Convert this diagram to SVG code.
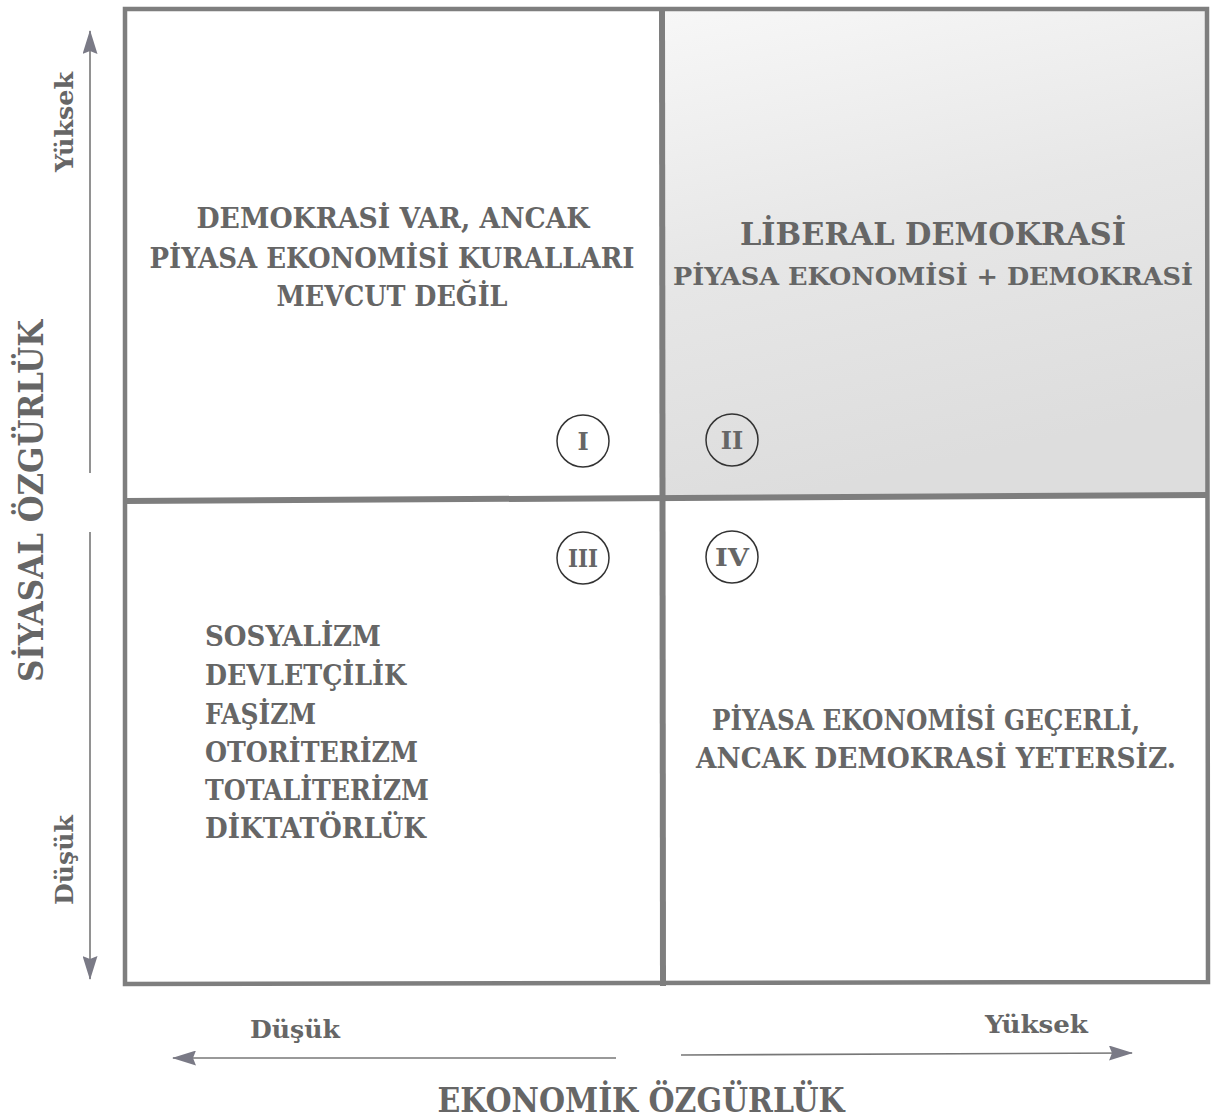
<svg xmlns="http://www.w3.org/2000/svg" width="1213" height="1119" viewBox="0 0 1213 1119">
<defs>
<linearGradient id="g2" x1="0" y1="0" x2="0.25" y2="1">
<stop offset="0" stop-color="#f7f7f7"/>
<stop offset="0.5" stop-color="#e7e7e7"/>
<stop offset="1" stop-color="#dddddd"/>
</linearGradient>
<marker id="ah" markerWidth="24" markerHeight="15" refX="23" refY="7.5" orient="auto" markerUnits="userSpaceOnUse">
<path d="M0,0 L24,7.5 L0,15 L3,7.5 Z" fill="#7a7a86"/>
</marker>
<style>
.t{font-family:"DejaVu Serif","Liberation Serif",serif;font-weight:bold;fill:#666;}
.q{font-size:27px;}
.c{text-anchor:middle;}
.ax{stroke:#777;stroke-width:1.6;fill:none;}
.br{stroke:#7e7e7e;fill:none;}
.cir{fill:none;stroke:#333;stroke-width:1.5;}
.n{font-size:24px;text-anchor:middle;}
</style>
</defs>
<rect width="1213" height="1119" fill="#fff"/>
<g id="quadrant-II-fill">
<rect x="665" y="11" width="541" height="484" fill="url(#g2)"/>
</g>
<g id="frame">
<path class="br" stroke-width="4.5" d="M125,9 L1207,9 L1208,982 L125,984 Z"/>
<line class="br" stroke-width="6" x1="662" y1="9" x2="663" y2="986"/>
<line class="br" stroke-width="6" x1="125" y1="501" x2="1207" y2="495"/>
</g>
<g id="connectors">
<line class="ax" x1="90" y1="473" x2="90" y2="31" marker-end="url(#ah)"/>
<line class="ax" x1="90" y1="532" x2="90" y2="979" marker-end="url(#ah)"/>
<line class="ax" x1="616" y1="1058" x2="173" y2="1058" marker-end="url(#ah)"/>
<line class="ax" x1="681" y1="1055" x2="1132" y2="1053" marker-end="url(#ah)"/>
</g>
<g id="axis-y">
<text class="t c" font-size="25" transform="translate(73,122) rotate(-90)" textLength="100" lengthAdjust="spacingAndGlyphs">Yüksek</text>
<text class="t c" font-size="34" transform="translate(43,501) rotate(-90)" textLength="362" lengthAdjust="spacingAndGlyphs">SİYASAL ÖZGÜRLÜK</text>
<text class="t c" font-size="25" transform="translate(73,860) rotate(-90)" textLength="90" lengthAdjust="spacingAndGlyphs">Düşük</text>
</g>
<g id="axis-x">
<text class="t" font-size="25" x="250" y="1038" textLength="90" lengthAdjust="spacingAndGlyphs">Düşük</text>
<text class="t" font-size="25" x="985" y="1033" textLength="103" lengthAdjust="spacingAndGlyphs">Yüksek</text>
<text class="t c" font-size="33" x="641" y="1112" textLength="407" lengthAdjust="spacingAndGlyphs">EKONOMİK ÖZGÜRLÜK</text>
</g>
<g id="quadrant-I">
<text class="t q c" x="393" y="228" textLength="393" lengthAdjust="spacingAndGlyphs">DEMOKRASİ VAR, ANCAK</text>
<text class="t q c" x="392" y="268" textLength="485" lengthAdjust="spacingAndGlyphs">PİYASA EKONOMİSİ KURALLARI</text>
<text class="t q c" x="392" y="306" textLength="231" lengthAdjust="spacingAndGlyphs">MEVCUT DEĞİL</text>
<circle class="cir" cx="583" cy="441" r="26"/>
<text class="t n" x="583" y="450">I</text>
</g>
<g id="quadrant-II">
<text class="t c" font-size="32" x="933" y="245" textLength="386" lengthAdjust="spacingAndGlyphs">LİBERAL DEMOKRASİ</text>
<text class="t c" font-size="25" x="933" y="285" textLength="520" lengthAdjust="spacingAndGlyphs">PİYASA EKONOMİSİ + DEMOKRASİ</text>
<circle class="cir" cx="732" cy="440" r="26"/>
<text class="t n" x="732" y="449">II</text>
</g>
<g id="quadrant-III">
<text class="t q" x="205" y="646" textLength="176" lengthAdjust="spacingAndGlyphs">SOSYALİZM</text>
<text class="t q" x="205" y="685" textLength="201" lengthAdjust="spacingAndGlyphs">DEVLETÇİLİK</text>
<text class="t q" x="205" y="724" textLength="111" lengthAdjust="spacingAndGlyphs">FAŞİZM</text>
<text class="t q" x="205" y="762" textLength="213" lengthAdjust="spacingAndGlyphs">OTORİTERİZM</text>
<text class="t q" x="205" y="800" textLength="224" lengthAdjust="spacingAndGlyphs">TOTALİTERİZM</text>
<text class="t q" x="205" y="838" textLength="221" lengthAdjust="spacingAndGlyphs">DİKTATÖRLÜK</text>
<circle class="cir" cx="583" cy="558" r="26"/>
<text class="t n" x="583" y="567" textLength="30" lengthAdjust="spacingAndGlyphs">III</text>
</g>
<g id="quadrant-IV">
<text class="t q c" x="926" y="730" textLength="428" lengthAdjust="spacingAndGlyphs">PİYASA EKONOMİSİ GEÇERLİ,</text>
<text class="t q c" x="936" y="768" textLength="480" lengthAdjust="spacingAndGlyphs">ANCAK DEMOKRASİ YETERSİZ.</text>
<circle class="cir" cx="732" cy="557" r="26"/>
<text class="t n" x="732" y="566" textLength="34" lengthAdjust="spacingAndGlyphs">IV</text>
</g>
</svg>
